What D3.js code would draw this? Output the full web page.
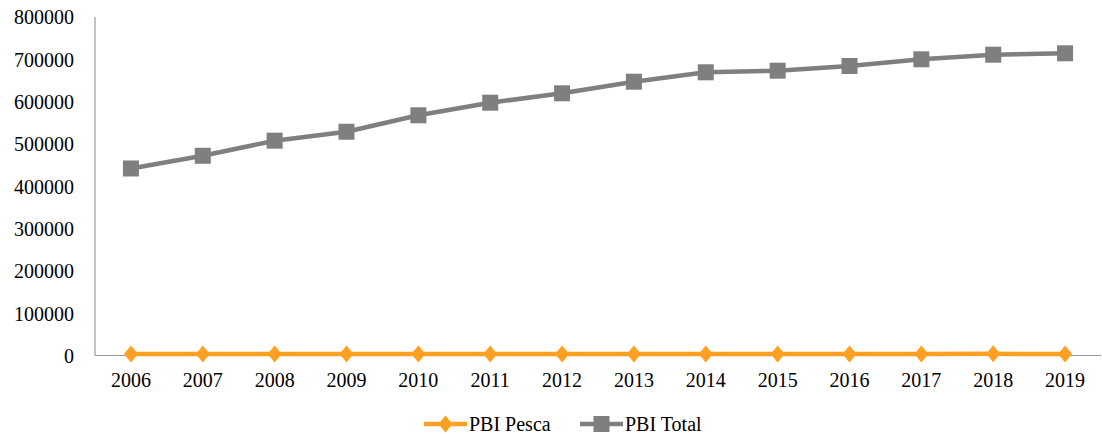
<!DOCTYPE html>
<html>
<head>
<meta charset="utf-8">
<script src="https://cdn.jsdelivr.net/npm/d3@7"></script>
<style>
  html, body { margin: 0; padding: 0; background: #fff; }
  svg { display: block; }
  text { font-family: "Liberation Serif", "Times New Roman", serif; fill: #000; }
</style>
</head>
<body>
<svg id="chart" width="1102" height="434"></svg>
<script>
// Años y series (PBI)
const years = ["2006","2007","2008","2009","2010","2011","2012","2013","2014","2015","2016","2017","2018","2019"];
const pbiPesca = [3500, 3400, 3600, 3500, 3300, 3800, 3300, 3700, 3400, 3500, 3600, 3800, 3900, 3700];
const pbiTotal = [442000, 472000, 507700, 528900, 567700, 597500, 619700, 647100, 669300, 673100, 684200, 700000, 710900, 714200];
const yTicks = [0, 100000, 200000, 300000, 400000, 500000, 600000, 700000, 800000];
const seriesNames = ["PBI Pesca", "PBI Total"];
const seriesColors = ["#FFA022", "#7F7F7F"];

const svg = d3.select("#chart");
const plotLeft = 95, plotRight = 1101, plotTop = 17, plotBottom = 355.5;

const x = d3.scaleBand().domain(years).range([plotLeft, plotRight]);
const y = d3.scaleLinear().domain([0, 800000]).range([plotBottom, plotTop]);
const cx = d => x(d) + x.bandwidth() / 2;

// Eje Y (etiquetas)
const yAxis = svg.append("g").attr("transform", `translate(${plotLeft},0)`)
  .call(d3.axisLeft(y).tickValues(yTicks).tickSize(0).tickPadding(21).tickFormat(d3.format("d")));
yAxis.select(".domain").remove();
yAxis.selectAll("text").style("font-size", "20px").style("font-family", "'Liberation Serif', serif").attr("dy", "0.34em");

// Eje X (etiquetas)
const xAxis = svg.append("g").attr("transform", `translate(0,${plotBottom})`)
  .call(d3.axisBottom(x).tickSize(0).tickPadding(17));
xAxis.select(".domain").remove();
xAxis.selectAll("text").style("font-size", "20px").style("font-family", "'Liberation Serif', serif").attr("dy", "0.71em");

// Líneas de ejes
svg.append("line").attr("x1", plotLeft).attr("x2", plotLeft).attr("y1", plotTop).attr("y2", plotBottom)
  .attr("stroke", "#9a9a9a").attr("stroke-width", 1.2);
svg.append("line").attr("x1", plotLeft).attr("x2", plotRight).attr("y1", plotBottom).attr("y2", plotBottom)
  .attr("stroke", "#9a9a9a").attr("stroke-width", 1.2);

const line = d3.line().x((d, i) => cx(years[i])).y(d => y(d));

const diamond = "M0,-8.5L7,0L0,8.5L-7,0Z";

// PBI Total
svg.append("path").datum(pbiTotal).attr("d", line)
  .attr("fill", "none").attr("stroke", seriesColors[1]).attr("stroke-width", 4.5).attr("stroke-linejoin", "round");
svg.append("g").selectAll("rect").data(pbiTotal).join("rect")
  .attr("x", (d, i) => cx(years[i]) - 8).attr("y", d => y(d) - 8)
  .attr("width", 16).attr("height", 16).attr("fill", seriesColors[1]);

// PBI Pesca
svg.append("path").datum(pbiPesca).attr("d", line)
  .attr("fill", "none").attr("stroke", seriesColors[0]).attr("stroke-width", 4.5);
svg.append("g").selectAll("path").data(pbiPesca).join("path")
  .attr("d", diamond)
  .attr("transform", (d, i) => `translate(${cx(years[i])},${y(d)})`)
  .attr("fill", seriesColors[0]);

// Leyenda
const legend = svg.append("g").attr("transform", "translate(0,424)");
const items = [
  { x: 424, name: seriesNames[0], color: seriesColors[0], marker: "diamond" },
  { x: 580, name: seriesNames[1], color: seriesColors[1], marker: "square" }
];
items.forEach(it => {
  legend.append("line").attr("x1", it.x).attr("x2", it.x + 43).attr("y1", 0).attr("y2", 0)
    .attr("stroke", it.color).attr("stroke-width", 4.5);
  if (it.marker === "diamond") {
    legend.append("path").attr("d", diamond).attr("transform", `translate(${it.x + 21.5},0)`).attr("fill", it.color);
  } else {
    legend.append("rect").attr("x", it.x + 21.5 - 8).attr("y", -8).attr("width", 16).attr("height", 16).attr("fill", it.color);
  }
  legend.append("text").attr("x", it.x + 45).attr("y", 0).attr("dy", "0.34em")
    .style("font-size", "20px").text(it.name);
});
</script>
</body>
</html>
